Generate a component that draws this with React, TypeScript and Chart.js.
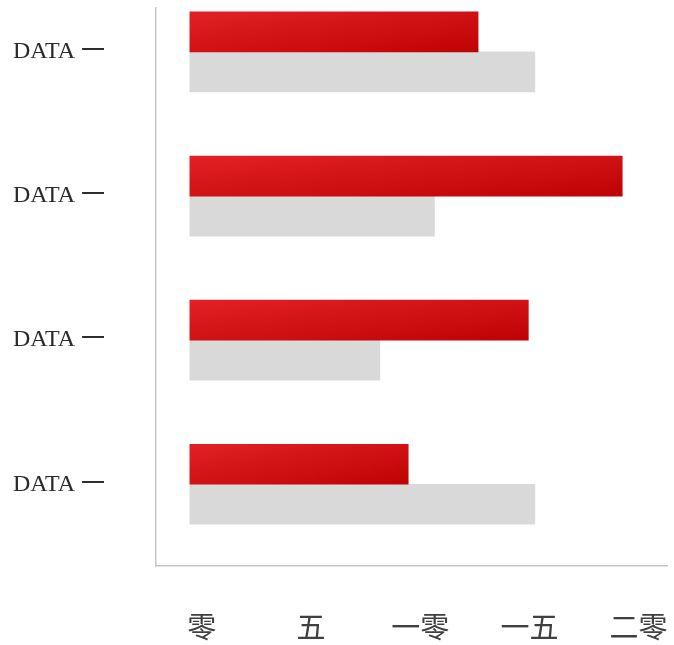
import React, { useEffect, useRef } from 'react';
import { Chart, registerables } from 'chart.js';

Chart.register(...registerables);

const categories = ['DATA 一', 'DATA 一', 'DATA 一', 'DATA 一'];
const redValues = [13.2, 19.8, 15.5, 10.0];
const grayValues = [15.8, 11.2, 8.7, 15.8];
const xTickValues = [0, 5, 10, 15, 20];
const xTickLabels = ['零', '五', '一零', '一五', '二零'];

const BAR = 40;

function redGradient(ctx: any) {
  const chart = ctx.chart;
  const xs = chart.scales && chart.scales.x;
  const ys = chart.scales && chart.scales.y;
  if (!xs || !ys || !ctx.raw || typeof ctx.raw !== 'object') return '#D11719';
  const x0 = xs.getPixelForValue(0);
  const x1 = xs.getPixelForValue(ctx.raw.x);
  const yc = ys.getPixelForValue(ctx.raw.y);
  if (![x0, x1, yc].every((n) => Number.isFinite(n))) return '#D11719';
  const top = yc - BAR;
  const W = Math.max(1, Math.abs(x1 - x0));
  const H = BAR;
  const k = 2 / (1 / (W * W) + 1 / (H * H));
  const ex = x0 + k / W;
  const ey = top + k / H;
  if (![top, ex, ey].every((n) => Number.isFinite(n))) return '#D11719';
  const g = chart.ctx.createLinearGradient(x0, top, ex, ey);
  g.addColorStop(0, '#E22125');
  g.addColorStop(1, '#BE0303');
  return g;
}

export default function App() {
  const ref = useRef<HTMLCanvasElement>(null);
  useEffect(() => {
    const canvas = ref.current!;
    const chart = new Chart(canvas, {
      type: 'bar',
      data: {
        datasets: [
          {
            label: 'A',
            data: redValues.map((v, i) => ({ x: v, y: i })),
            backgroundColor: redGradient,
            barThickness: BAR,
            borderWidth: 0,
          },
          {
            label: 'B',
            data: grayValues.map((v, i) => ({ x: v, y: i })),
            backgroundColor: '#D9D9D9',
            barThickness: BAR,
            borderWidth: 0,
          },
        ],
      } as any,
      options: {
        indexAxis: 'y',
        responsive: false,
        animation: false,
        layout: { padding: { left: 0, right: 7, top: 8, bottom: 0 } },
        plugins: { legend: { display: false }, tooltip: { enabled: false } },
        scales: {
          x: {
            type: 'linear',
            min: -1.55,
            max: 21.85,
            offset: false,
            grid: { display: false, drawTicks: false, offset: false },
            border: { display: true, color: '#C6C6C6', width: 1.5 },
            afterBuildTicks: (s: any) => {
              s.ticks = xTickValues.map((v) => ({ value: v }));
            },
            afterFit: (s: any) => {
              s.height = 79;
              s.paddingLeft = 0;
              s.paddingRight = 0;
              s.paddingTop = 0;
              s.paddingBottom = 0;
            },
            ticks: {
              callback: (v: any) => {
                const i = xTickValues.indexOf(Number(v));
                return i >= 0 ? xTickLabels[i] : '';
              },
              labelOffset: 12,
              padding: 44,
              color: '#404040',
              font: { family: '"Noto Sans CJK SC", serif', size: 29 },
              maxRotation: 0,
              autoSkip: false,
            },
          },
          y: {
            type: 'linear',
            reverse: true,
            min: -0.305,
            max: 3.567,
            offset: false,
            grid: { display: false, drawTicks: false, offset: false },
            border: { display: true, color: '#C6C6C6', width: 1.5 },
            afterBuildTicks: (s: any) => {
              s.ticks = categories.map((_, i) => ({ value: i }));
            },
            afterFit: (s: any) => {
              s.width = 156;
              s.paddingLeft = 0;
              s.paddingRight = 0;
              s.paddingTop = 0;
              s.paddingBottom = 0;
            },
            ticks: {
              callback: (v: any) => categories[Number(v)] ?? '',
              padding: 51,
              color: '#2B2B2B',
              font: { family: '"Liberation Serif", "Noto Sans CJK SC", serif', size: 24 },
              autoSkip: false,
            },
          },
        },
      } as any,
    });
    return () => chart.destroy();
  }, []);
  return (
    <div style={{ position: 'fixed', left: 0, top: 0, width: 674, height: 645, background: '#fff' }}>
      <canvas ref={ref} width={674} height={645} style={{ display: 'block', width: 674, height: 645 }} />
    </div>
  );
}
